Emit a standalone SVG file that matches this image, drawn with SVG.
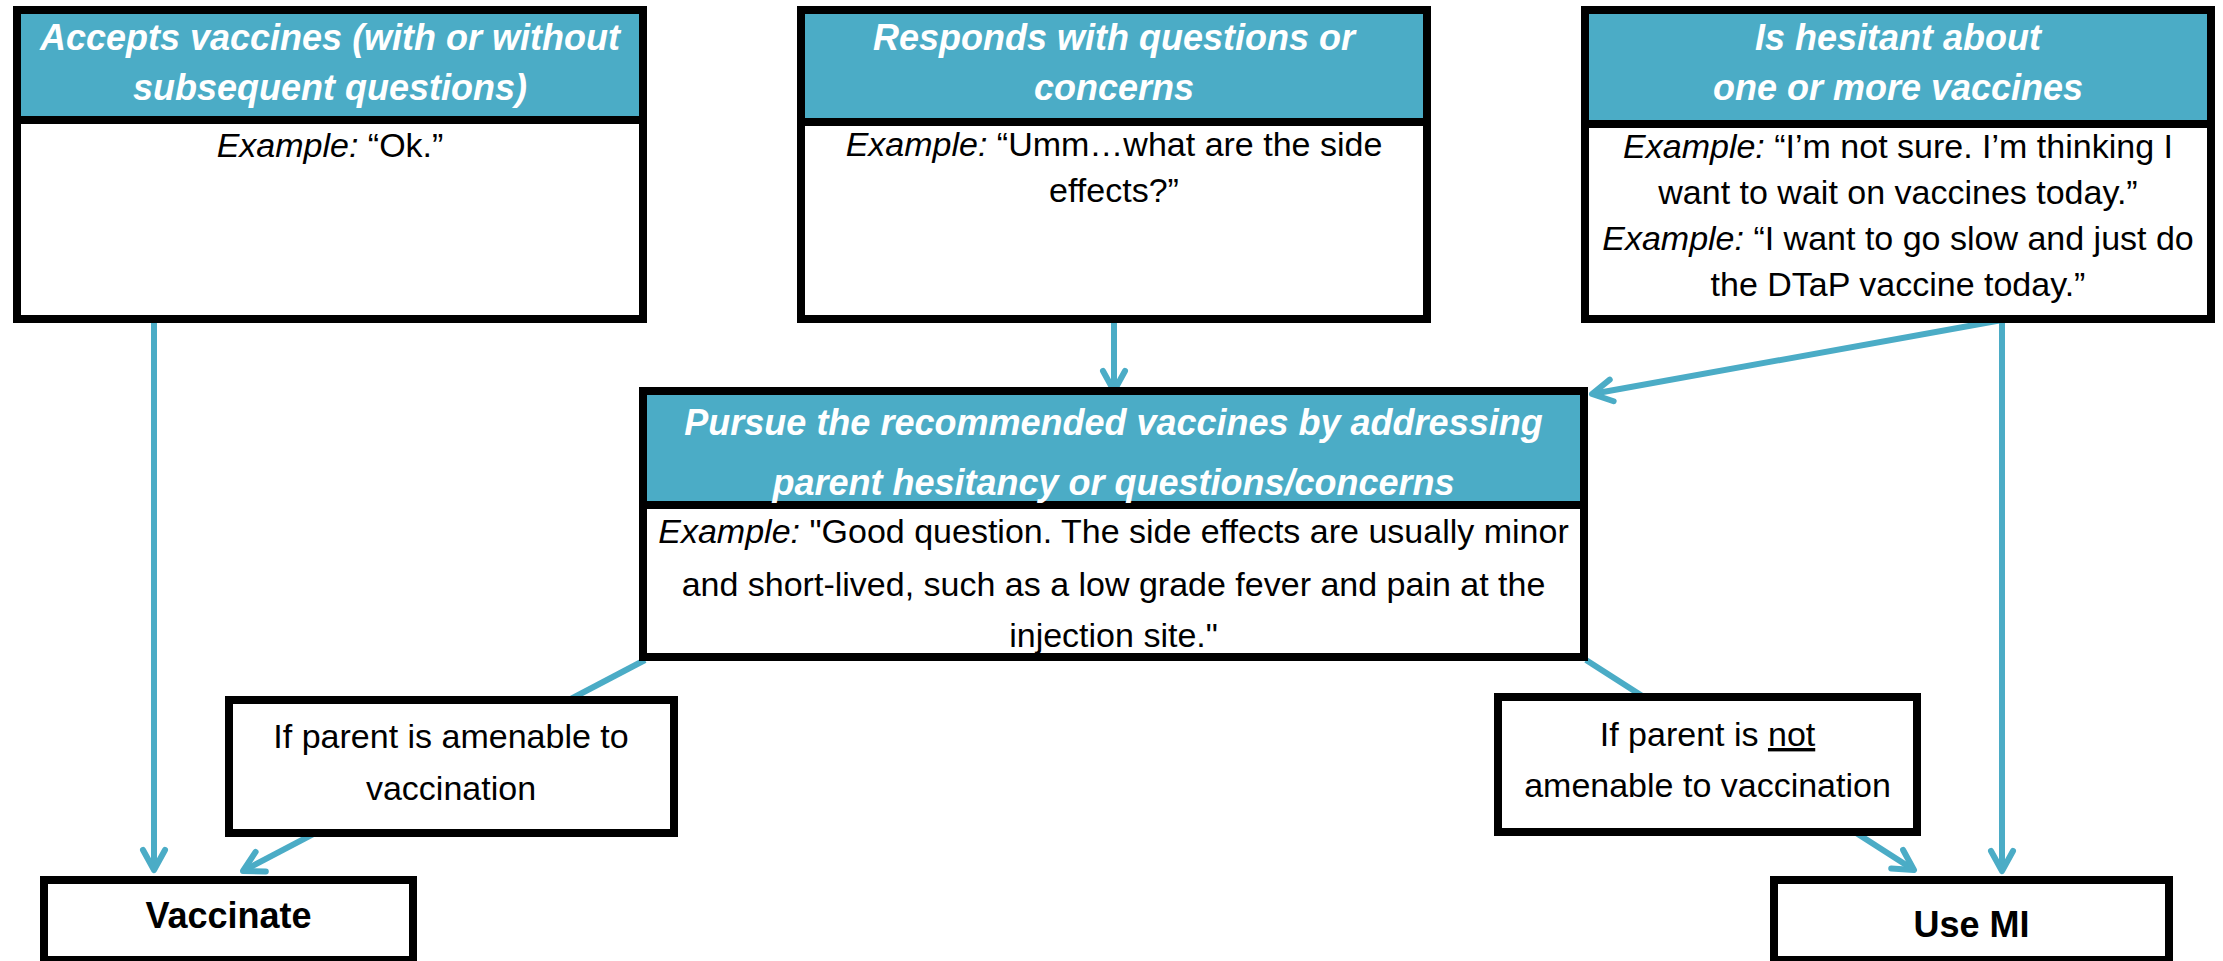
<svg xmlns="http://www.w3.org/2000/svg" width="2223" height="961" viewBox="0 0 2223 961">
<style>
.box{fill:#fff;stroke:#000;stroke-width:8}
.hdr{fill:#4BACC6}
.div{stroke:#000;stroke-width:8}
.h{font-family:"Liberation Sans",Arial,sans-serif;font-weight:bold;font-style:italic;font-size:36px;fill:#fff;text-anchor:middle}
.t{font-family:"Liberation Sans",Arial,sans-serif;font-size:34px;fill:#000;text-anchor:middle}
.em{font-style:italic}
.b{font-family:"Liberation Sans",Arial,sans-serif;font-weight:bold;font-size:36px;fill:#000;text-anchor:middle}
.conn{stroke:#4BACC6;stroke-width:6;fill:none;marker-end:url(#ah)}
</style>
<defs>
<marker id="ah" viewBox="-26 -16 30 32" refX="0" refY="0" markerWidth="30" markerHeight="32" markerUnits="userSpaceOnUse" orient="auto">
<path d="M-20,-11 L0,0 L-20,11" fill="none" stroke="#4BACC6" stroke-width="6" stroke-linecap="round" stroke-linejoin="round"/>
</marker>
</defs>
<rect width="2223" height="961" fill="#fff"/>
<g id="connectors">
<line class="conn" x1="154" y1="319" x2="154" y2="870"/>
<line class="conn" x1="1114" y1="319" x2="1114" y2="391"/>
<line class="conn" x1="2002" y1="320" x2="1592" y2="394"/>
<line class="conn" x1="2002" y1="319" x2="2002" y2="871"/>
<line class="conn" x1="645" y1="660" x2="243" y2="871"/>
<line class="conn" x1="1586" y1="660" x2="1914" y2="870"/>
</g>
<g id="accepts">
<rect class="box" x="17" y="10" width="626" height="309"/>
<rect class="hdr" x="21" y="14" width="618" height="106"/>
<line class="div" x1="17" y1="120" x2="643" y2="120"/>
<text class="h" x="330" y="50">Accepts vaccines (with or without</text>
<text class="h" x="330" y="100">subsequent questions)</text>
<text class="t" x="330" y="157"><tspan class="em">Example:</tspan> “Ok.”</text>
</g>
<g id="responds">
<rect class="box" x="801" y="10" width="626" height="309"/>
<rect class="hdr" x="805" y="14" width="618" height="108"/>
<line class="div" x1="801" y1="122" x2="1427" y2="122"/>
<text class="h" x="1114" y="50">Responds with questions or</text>
<text class="h" x="1114" y="100">concerns</text>
<text class="t" x="1114" y="156"><tspan class="em">Example:</tspan> “Umm…what are the side</text>
<text class="t" x="1114" y="202">effects?”</text>
</g>
<g id="hesitant">
<rect class="box" x="1585" y="10" width="626" height="309"/>
<rect class="hdr" x="1589" y="14" width="618" height="110"/>
<line class="div" x1="1585" y1="124" x2="2211" y2="124"/>
<text class="h" x="1898" y="50">Is hesitant about</text>
<text class="h" x="1898" y="100">one or more vaccines</text>
<text class="t" x="1898" y="158"><tspan class="em">Example:</tspan> “I’m not sure. I’m thinking I</text>
<text class="t" x="1898" y="204">want to wait on vaccines today.”</text>
<text class="t" x="1898" y="250"><tspan class="em">Example:</tspan> “I want to go slow and just do</text>
<text class="t" x="1898" y="296">the DTaP vaccine today.”</text>
</g>
<g id="pursue">
<rect class="box" x="643" y="391" width="941" height="266"/>
<rect class="hdr" x="647" y="395" width="933" height="110"/>
<line class="div" x1="643" y1="505" x2="1584" y2="505"/>
<text class="h" x="1113.5" y="435">Pursue the recommended vaccines by addressing</text>
<text class="h" x="1113.5" y="495">parent hesitancy or questions/concerns</text>
<text class="t" x="1113.5" y="543"><tspan class="em">Example:</tspan> "Good question. The side effects are usually minor</text>
<text class="t" x="1113.5" y="596">and short-lived, such as a low grade fever and pain at the</text>
<text class="t" x="1113.5" y="647">injection site."</text>
</g>
<g id="amenable">
<rect class="box" x="229" y="700" width="445" height="133"/>
<text class="t" x="451" y="748">If parent is amenable to</text>
<text class="t" x="451" y="800">vaccination</text>
</g>
<g id="not-amenable">
<rect class="box" x="1498" y="697" width="419" height="135"/>
<text class="t" x="1707.5" y="746">If parent is <tspan text-decoration="underline">not</tspan></text>
<text class="t" x="1707.5" y="797">amenable to vaccination</text>
</g>
<g id="vaccinate">
<rect class="box" x="44" y="880" width="369" height="80"/>
<text class="b" x="228.5" y="928">Vaccinate</text>
</g>
<g id="use-mi">
<rect class="box" x="1774" y="880" width="395" height="80"/>
<text class="b" x="1971.5" y="937">Use MI</text>
</g>
</svg>
